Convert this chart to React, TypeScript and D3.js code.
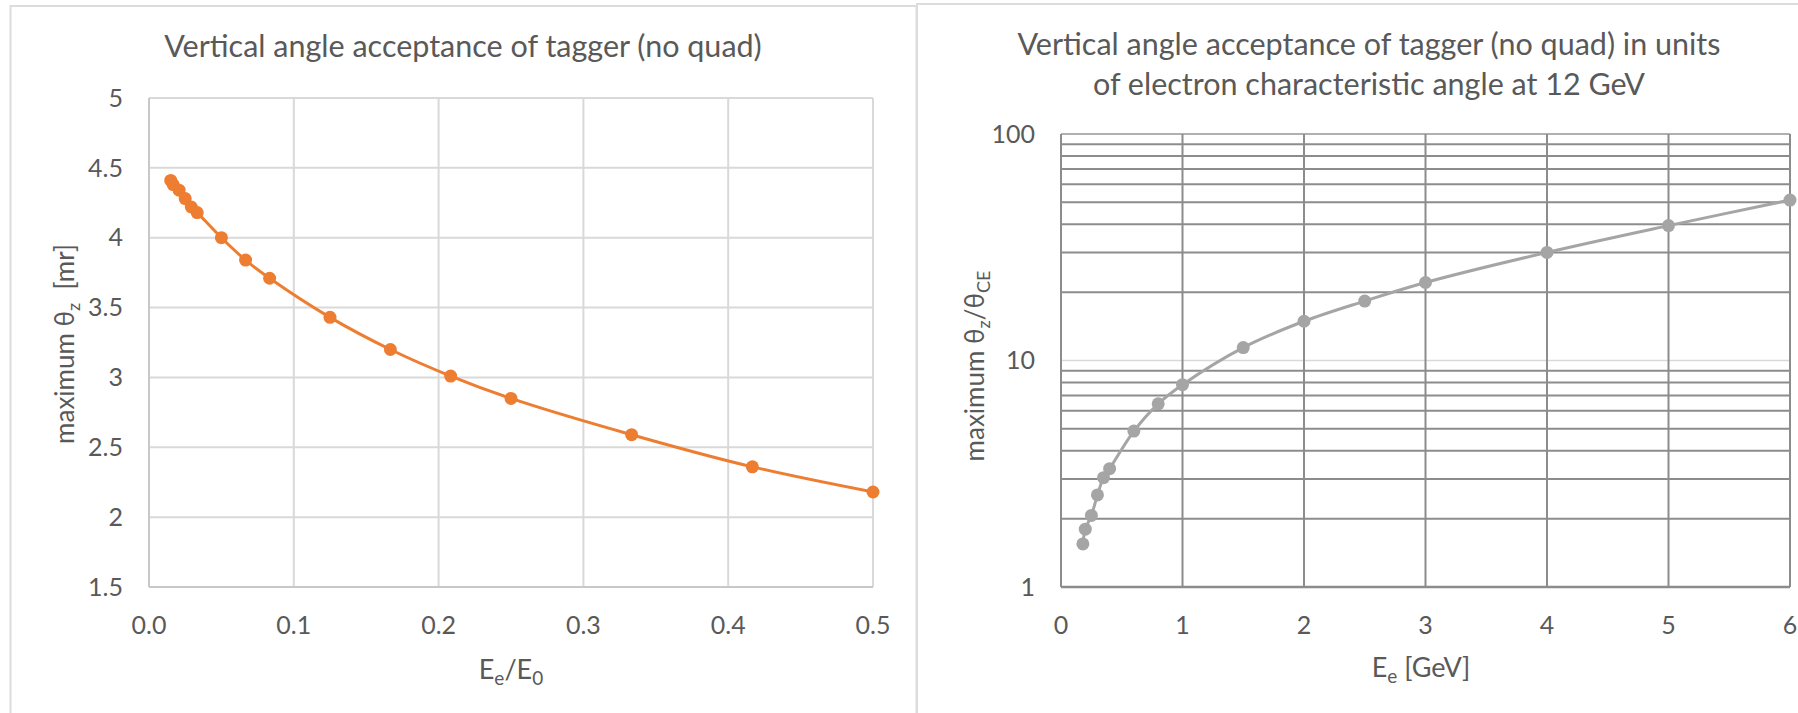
import React from 'react';
import * as d3 from 'd3';

// left chart: E_e/E_0 vs maximum theta_z [mr]
const ratioE = [0.015, 0.0167, 0.0208, 0.025, 0.0292, 0.0333, 0.05, 0.0667, 0.0833, 0.125, 0.1667, 0.2083, 0.25, 0.3333, 0.4167, 0.5];
const thetaZ = [4.41, 4.38, 4.34, 4.28, 4.22, 4.18, 4.0, 3.84, 3.71, 3.43, 3.2, 3.01, 2.85, 2.59, 2.36, 2.18];
const leftXTicks = [0, 0.1, 0.2, 0.3, 0.4, 0.5];
const leftYTicks = [1.5, 2, 2.5, 3, 3.5, 4, 4.5, 5];

// right chart: E_e [GeV] vs theta_z / theta_CE
const energyGeV = [0.18, 0.2, 0.25, 0.3, 0.35, 0.4, 0.6, 0.8, 1, 1.5, 2, 2.5, 3, 4, 5, 6];
const thetaRatio = [1.55, 1.8, 2.07, 2.55, 3.04, 3.33, 4.88, 6.44, 7.82, 11.4, 14.9, 18.3, 22.1, 30.0, 39.4, 51.1];
const rightXTicks = [0, 1, 2, 3, 4, 5, 6];
const rightYTicks = [1, 10, 100];

const font = 'Lato, "Open Sans", sans-serif';
const textColor = '#595959';
const titleSize = 30.5;
const tickSize = 25;
const axisSize = 27;
const subSize = 19;

function LeftChart() {
  const x = d3.scaleLinear().domain([0, 0.5]).range([149, 873]);
  const y = d3.scaleLinear().domain([1.5, 5]).range([587, 98]);
  const pts: [number, number][] = ratioE.map((d, i) => [d, thetaZ[i]]);
  const line = d3.line<[number, number]>()
    .x(d => x(d[0]))
    .y(d => y(d[1]))
    .curve(d3.curveCatmullRom);
  return (
    <g>
      {leftYTicks.map(t => (
        <line key={'gy' + t} x1={x(0)} x2={x(0.5)} y1={y(t)} y2={y(t)} stroke="#d9d9d9" strokeWidth={2} />
      ))}
      {leftXTicks.map(t => (
        <line key={'gx' + t} x1={x(t)} x2={x(t)} y1={y(1.5)} y2={y(5)} stroke="#d9d9d9" strokeWidth={2} />
      ))}
      <line x1={x(0)} x2={x(0)} y1={y(1.5)} y2={y(5)} stroke="#c8c8c8" strokeWidth={2} />
      <line x1={x(0)} x2={x(0.5)} y1={y(1.5)} y2={y(1.5)} stroke="#c8c8c8" strokeWidth={2} />
      {leftYTicks.map(t => (
        <text key={'ly' + t} x={x(0) - 26} y={y(t)} dy="0.35em" textAnchor="end" fontSize={tickSize} fill={textColor}>{t}</text>
      ))}
      {leftXTicks.map(t => (
        <text key={'lx' + t} x={x(t)} y={y(1.5) + 38} dy="0.35em" textAnchor="middle" fontSize={tickSize} fill={textColor}>{d3.format('.1f')(t)}</text>
      ))}
      <path d={line(pts) || ''} fill="none" stroke="#ed7d31" strokeWidth={3} />
      {pts.map((d, i) => (
        <circle key={i} cx={x(d[0])} cy={y(d[1])} r={6.5} fill="#ed7d31" />
      ))}
      <text x={463} y={46} dy="0.35em" textAnchor="middle" fontSize={titleSize} fill={textColor}>Vertical angle acceptance of tagger (no quad)</text>
      <text x={511} y={670} dy="0.35em" textAnchor="middle" fontSize={axisSize} fill={textColor}>
        E<tspan fontSize={subSize} dy="6">e</tspan><tspan dy="-6">/E</tspan><tspan fontSize={subSize} dy="6">0</tspan>
      </text>
      <text transform="translate(65,344) rotate(-90)" textAnchor="middle" dy="0.35em" fontSize={axisSize - 1} fill={textColor} xmlSpace="preserve">
        maximum θ<tspan fontSize={subSize - 1} dy="6">z</tspan><tspan dy="-6">{'  [mr]'}</tspan>
      </text>
    </g>
  );
}

function RightChart() {
  const x = d3.scaleLinear().domain([0, 6]).range([1061, 1790]);
  const y = d3.scaleLog().domain([1, 100]).range([587, 134]);
  const minor: number[] = [];
  [1, 10].forEach(dec => [2, 3, 4, 5, 6, 7, 8, 9].forEach(m => minor.push(dec * m)));
  const pts: [number, number][] = energyGeV.map((d, i) => [d, thetaRatio[i]]);
  const line = d3.line<[number, number]>()
    .x(d => x(d[0]))
    .y(d => y(d[1]))
    .curve(d3.curveCatmullRom);
  return (
    <g>
      {minor.map(t => (
        <line key={'mn' + t} x1={x(0)} x2={x(6)} y1={y(t)} y2={y(t)} stroke="#8c8c8c" strokeWidth={2} />
      ))}
      <line x1={x(0)} x2={x(6)} y1={y(10)} y2={y(10)} stroke="#d9d9d9" strokeWidth={1.5} />
      <line x1={x(0)} x2={x(6)} y1={y(100)} y2={y(100)} stroke="#b0b0b0" strokeWidth={2} />
      {rightXTicks.map(t => (
        <line key={'gx' + t} x1={x(t)} x2={x(t)} y1={y(1)} y2={y(100)} stroke="#8c8c8c" strokeWidth={2} />
      ))}
      <line x1={x(0)} x2={x(6)} y1={y(1)} y2={y(1)} stroke="#8c8c8c" strokeWidth={2.5} />
      {rightYTicks.map(t => (
        <text key={'ry' + t} x={x(0) - 26} y={y(t)} dy="0.35em" textAnchor="end" fontSize={tickSize} fill={textColor}>{t}</text>
      ))}
      {rightXTicks.map(t => (
        <text key={'rx' + t} x={x(t)} y={y(1) + 38} dy="0.35em" textAnchor="middle" fontSize={tickSize} fill={textColor}>{t}</text>
      ))}
      <path d={line(pts) || ''} fill="none" stroke="#a5a5a5" strokeWidth={3} />
      {pts.map((d, i) => (
        <circle key={i} cx={x(d[0])} cy={y(d[1])} r={6.5} fill="#a5a5a5" />
      ))}
      <text x={1369} y={44} dy="0.35em" textAnchor="middle" fontSize={titleSize} fill={textColor}>Vertical angle acceptance of tagger (no quad) in units</text>
      <text x={1369} y={84} dy="0.35em" textAnchor="middle" fontSize={titleSize} fill={textColor}>of electron characteristic angle at 12 GeV</text>
      <text x={1421} y={668} dy="0.35em" textAnchor="middle" fontSize={axisSize} fill={textColor}>
        E<tspan fontSize={subSize} dy="6">e</tspan><tspan dy="-6">{' [GeV]'}</tspan>
      </text>
      <text transform="translate(975,366) rotate(-90)" textAnchor="middle" dy="0.35em" fontSize={axisSize - 1} fill={textColor}>
        maximum θ<tspan fontSize={subSize - 1} dy="6">z</tspan><tspan dy="-6">/θ</tspan><tspan fontSize={subSize - 1} dy="6">CE</tspan>
      </text>
    </g>
  );
}

export default function App() {
  return (
    <svg width={1798} height={713} style={{ position: 'absolute', left: 0, top: 0, background: '#fff' }} fontFamily={font}>
      <rect x={0} y={0} width={1798} height={713} fill="#fff" />
      <rect x={10.5} y={6} width={906} height={720} fill="none" stroke="#dcdcdc" strokeWidth={2} />
      <rect x={917} y={4} width={900} height={720} fill="none" stroke="#dcdcdc" strokeWidth={2} />
      <LeftChart />
      <RightChart />
    </svg>
  );
}
